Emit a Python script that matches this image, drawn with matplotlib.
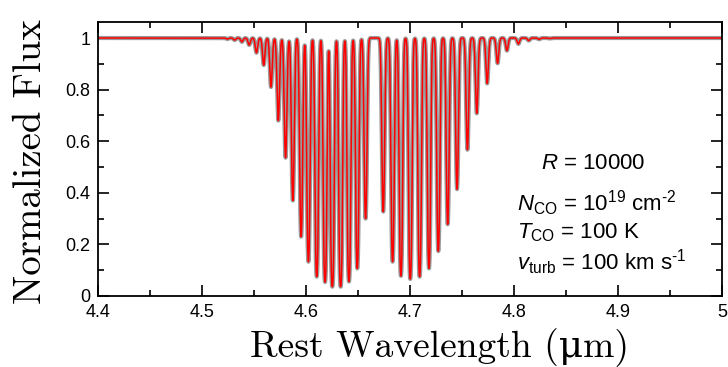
import numpy as np
import matplotlib
matplotlib.use('Agg')
import matplotlib.pyplot as plt
from matplotlib.ticker import MultipleLocator

# CO v=1-0 absorption lines (um, minimum normalized flux)
r_branch_um = [4.524, 4.531, 4.538, 4.545, 4.552, 4.559, 4.566, 4.573, 4.580, 4.587,
               4.595, 4.602, 4.610, 4.618, 4.625, 4.633, 4.641, 4.649, 4.657]
r_branch_min = [0.996, 0.992, 0.985, 0.973, 0.943, 0.895, 0.81, 0.68, 0.536, 0.37,
                0.23, 0.133, 0.075, 0.054, 0.036, 0.036, 0.056, 0.107, 0.30]
p_branch_um = [4.674, 4.683, 4.691, 4.700, 4.709, 4.718, 4.727, 4.736, 4.745, 4.755,
               4.764, 4.774, 4.784, 4.793, 4.804, 4.814, 4.824, 4.834]
p_branch_min = [0.327, 0.133, 0.078, 0.066, 0.075, 0.107, 0.174, 0.278, 0.414, 0.567,
                0.708, 0.824, 0.902, 0.951, 0.977, 0.99, 0.995, 0.998]
line_width_um = 0.0016

x_ticks = [4.4, 4.5, 4.6, 4.7, 4.8, 4.9, 5.0]
x_tick_labels = ['4.4', '4.5', '4.6', '4.7', '4.8', '4.9', '5']
y_ticks = [0, 0.2, 0.4, 0.6, 0.8, 1.0]
y_tick_labels = ['0', '0.2', '0.4', '0.6', '0.8', '1']

plt.rcParams['font.family'] = ['Liberation Sans', 'DejaVu Sans']
plt.rcParams['mathtext.fontset'] = 'custom'
plt.rcParams['mathtext.rm'] = 'Liberation Sans'
plt.rcParams['mathtext.it'] = 'Liberation Sans:italic'

# build the spectrum from the line list
wave = np.linspace(4.4, 5.0, 6001)
tau = np.zeros_like(wave)
for c, m in zip(r_branch_um + p_branch_um, r_branch_min + p_branch_min):
    tau += -np.log(m) * np.exp(-((wave - c) / line_width_um) ** 2)
flux = np.exp(-tau)

fig = plt.figure(figsize=(7.28, 3.67), dpi=100)
ax = fig.add_axes([0.1353, 0.1935, 0.8565, 0.7465])

ax.plot(wave, flux, color='#9a9a9a', lw=3.0, solid_joinstyle='round')
ax.plot(wave, flux, color='#ff0000', lw=1.1)

ax.set_xlim(4.4, 5.0)
ax.set_ylim(0, 1.062)
ax.set_xticks(x_ticks)
ax.set_xticklabels(x_tick_labels)
ax.set_yticks(y_ticks)
ax.set_yticklabels(y_tick_labels)
ax.xaxis.set_minor_locator(MultipleLocator(0.05))
ax.yaxis.set_minor_locator(MultipleLocator(0.1))
ax.tick_params(which='both', direction='in', top=True, right=True, width=1.2,
               labelsize=13, colors='black')
ax.tick_params(which='major', length=8, pad=6)
ax.tick_params(which='minor', length=4)
for s in ax.spines.values():
    s.set_linewidth(1.3)

fig.text(0.043, 0.560, 'Normalized Flux', rotation=90, ha='center', va='center',
         fontsize=28, family=['cmr10', 'DejaVu Serif'])
fig.text(0.604, 0.052, 'Rest Wavelength (\u03bcm)', ha='center', va='center',
         fontsize=27, family=['cmr10', 'DejaVu Serif'])

ax.text(0.793, 0.482, r'$R$ = 10000', transform=ax.transAxes, ha='center', va='center', fontsize=16)
ax.text(0.671, 0.339, '$N_{\\mathrm{CO}}$ = 10$^{19}$ cm$^{\u20102}$', transform=ax.transAxes,
        ha='left', va='center', fontsize=16)
ax.text(0.671, 0.230, r'$T_{\mathrm{CO}}$ = 100 K', transform=ax.transAxes,
        ha='left', va='center', fontsize=16)
ax.text(0.671, 0.124, '$v_{\\mathrm{turb}}$ = 100 km s$^{\u20101}$', transform=ax.transAxes,
        ha='left', va='center', fontsize=16)

fig.savefig('out.png', dpi=100)
